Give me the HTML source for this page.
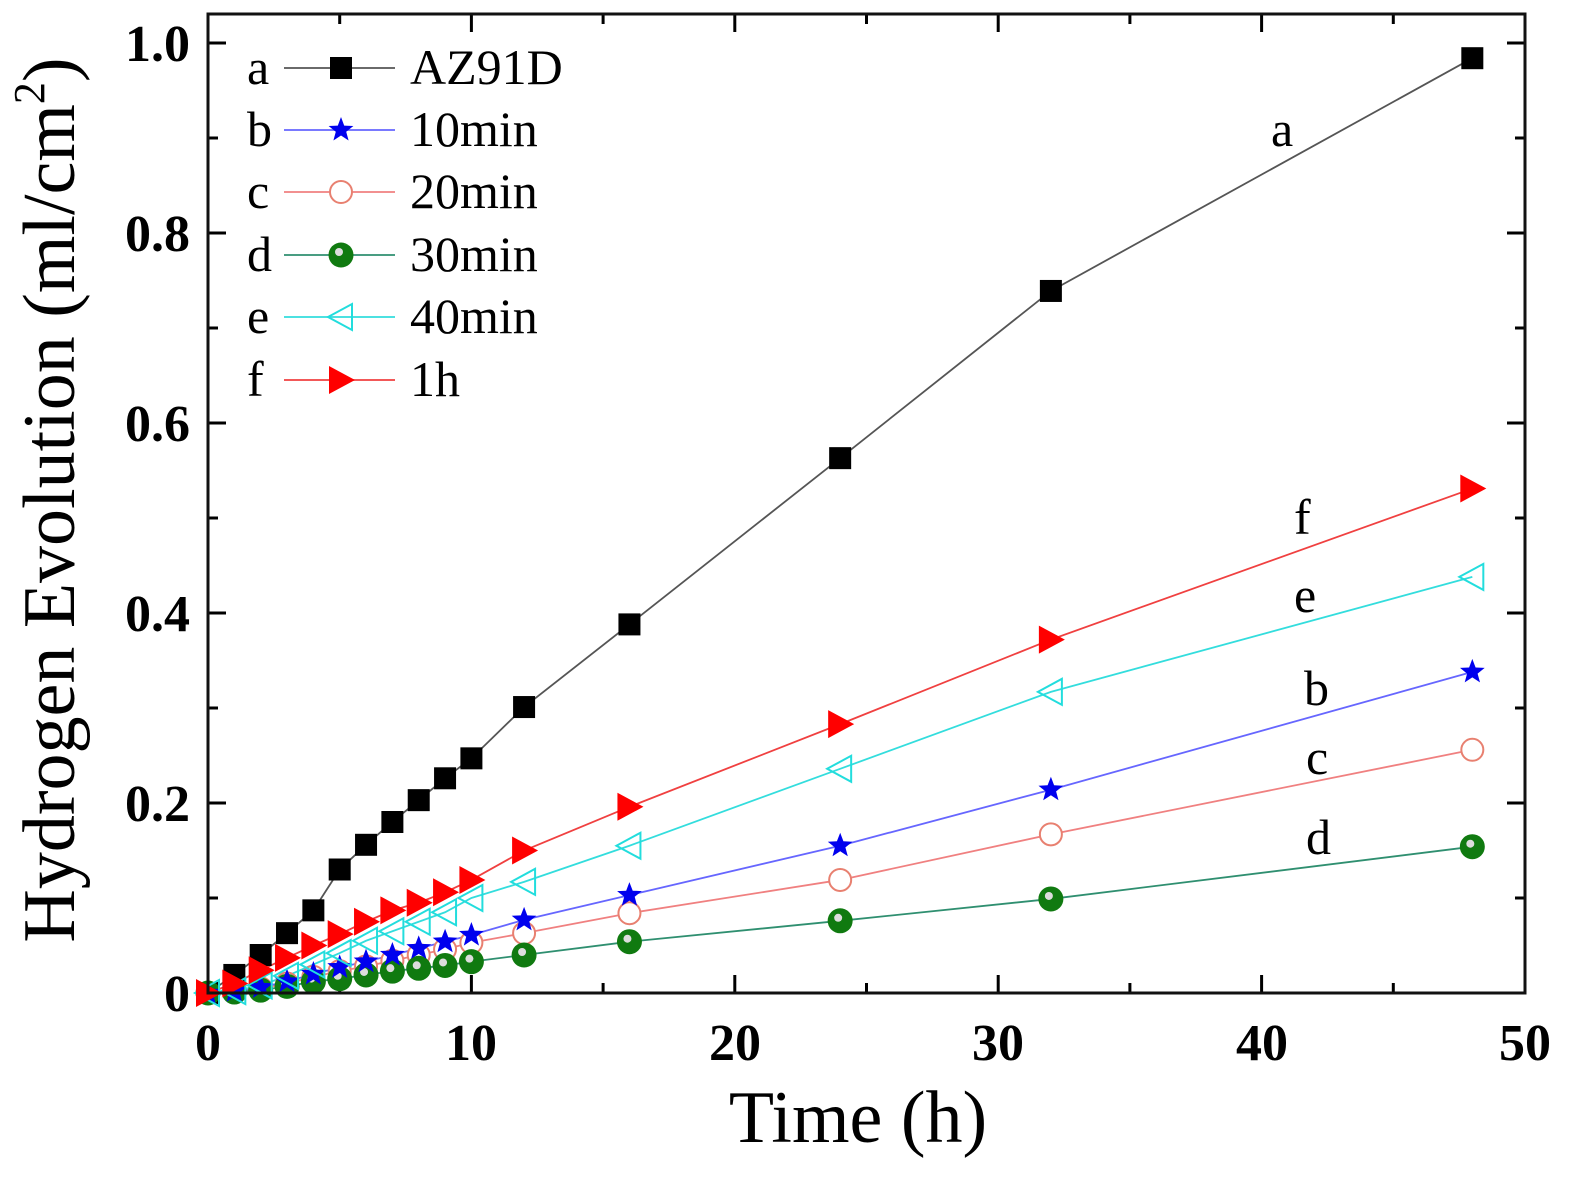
<!DOCTYPE html>
<html><head><meta charset="utf-8"><style>
html,body{margin:0;padding:0;background:#fff;}
svg{display:block;}
text{font-family:"Liberation Serif",serif;}
</style></head><body>
<svg id="s" width="1578" height="1185" viewBox="0 0 1578 1185" xmlns="http://www.w3.org/2000/svg">
<rect width="1578" height="1185" fill="#fff"/>
<g id="ticks" stroke="#000" stroke-width="3"></g>
<g id="series"></g>
<rect x="208" y="14" width="1317" height="979" fill="none" stroke="#111" stroke-width="3"/>
<g font-weight="bold" font-size="52" text-anchor="end">
<text x="190" y="1011">0</text>
<text x="190" y="821">0.2</text>
<text x="190" y="631">0.4</text>
<text x="190" y="441">0.6</text>
<text x="190" y="251">0.8</text>
<text x="190" y="61">1.0</text>
</g>
<g font-weight="bold" font-size="52" text-anchor="middle">
<text x="208" y="1060">0</text>
<text x="471" y="1060">10</text>
<text x="735" y="1060">20</text>
<text x="998" y="1060">30</text>
<text x="1262" y="1060">40</text>
<text x="1525" y="1060">50</text>
</g>
<text x="858" y="1142" font-size="74" text-anchor="middle">Time (h)</text>
<text transform="translate(74,500) rotate(-90)" font-size="74" text-anchor="middle">Hydrogen Evolution (ml/cm<tspan dy="-30" font-size="44">2</tspan><tspan dy="30">)</tspan></text>
<g font-size="50">
<text x="1271" y="146">a</text>
<text x="1294" y="534">f</text>
<text x="1294" y="612">e</text>
<text x="1304" y="705">b</text>
<text x="1306" y="774">c</text>
<text x="1306" y="854">d</text>
</g>
<g font-size="50">
<text x="247" y="84">a</text><text x="410" y="84">AZ91D</text>
<text x="247" y="146">b</text><text x="410" y="146">10min</text>
<text x="247" y="208">c</text><text x="410" y="208">20min</text>
<text x="247" y="271">d</text><text x="410" y="271">30min</text>
<text x="247" y="333">e</text><text x="410" y="333">40min</text>
<text x="247" y="396">f</text><text x="410" y="396">1h</text>
</g>
<g id="legend"></g>
</svg>
<script>
const NS="http://www.w3.org/2000/svg";
function el(t,a,p){const e=document.createElementNS(NS,t);for(const k in a)e.setAttribute(k,a[k]);p.appendChild(e);return e;}
const X=h=>208+h*26.34, Y=v=>993-v*950;
const tk=document.getElementById('ticks');
for(let i=0;i<=10;i++){const x=X(i*5);const L=i%2?10:18;el('line',{x1:x,y1:993,x2:x,y2:993-L},tk);el('line',{x1:x,y1:14,x2:x,y2:14+L},tk);}
for(let i=0;i<=10;i++){const y=Y(i*0.1);const L=i%2?10:18;el('line',{x1:208,y1:y,x2:208+L,y2:y},tk);el('line',{x1:1525,y1:y,x2:1525-L,y2:y},tk);}
const xs=[0,1,2,3,4,5,6,7,8,9,10,12,16,24,32,48];
const S=[
{c:'#555',m:'sq',d:[0,0.019,0.04,0.063,0.087,0.13,0.156,0.18,0.203,0.226,0.247,0.301,0.388,0.563,0.739,0.984]},
{c:'#f08080',m:'oc',d:[0,0.002,0.005,0.01,0.017,0.023,0.028,0.034,0.04,0.046,0.053,0.063,0.084,0.119,0.167,0.256]},
{c:'#2f8f70',m:'gc',d:[0,0.001,0.003,0.007,0.012,0.015,0.019,0.023,0.026,0.029,0.033,0.04,0.054,0.076,0.099,0.154]},
{c:'#6666ff',m:'st',d:[0,0.002,0.006,0.012,0.02,0.027,0.033,0.04,0.047,0.054,0.061,0.077,0.103,0.155,0.214,0.338]},
{c:'#33dddd',m:'lt',d:[0,0.002,0.008,0.018,0.03,0.042,0.055,0.065,0.075,0.085,0.1,0.117,0.155,0.236,0.317,0.438]},
{c:'#f04040',m:'rt',d:[0,0.01,0.024,0.037,0.05,0.062,0.075,0.087,0.095,0.106,0.119,0.15,0.196,0.283,0.372,0.531]}
];
function marker(m,x,y,g,s){s=s||1;
 if(m=='sq')el('rect',{x:x-11*s,y:y-11*s,width:22*s,height:22*s,fill:'#000'},g);
 else if(m=='oc')el('circle',{cx:x,cy:y,r:11*s,fill:'#fff',stroke:'#e88070','stroke-width':2},g);
 else if(m=='gc'){el('circle',{cx:x,cy:y,r:12.5*s,fill:'#107a10'},g);el('circle',{cx:x-2*s,cy:y-3*s,r:4*s,fill:'#ddd'},g);}
 else if(m=='st'){let p=[];for(let i=0;i<10;i++){const r=i%2?5.5*s:13*s;const a=-Math.PI/2+i*Math.PI/5;p.push((x+r*Math.cos(a)).toFixed(1)+','+(y+r*Math.sin(a)).toFixed(1));}el('polygon',{points:p.join(' '),fill:'#0000ee'},g);}
 else if(m=='lt')el('polygon',{points:`${x-13*s},${y} ${x+11*s},${y-13*s} ${x+11*s},${y+13*s}`,fill:'none',stroke:'#22dddd','stroke-width':2},g);
 else if(m=='rt')el('polygon',{points:`${x+14*s},${y} ${x-12*s},${y-14*s} ${x-12*s},${y+14*s}`,fill:'#ff0000'},g);
}
const sg=document.getElementById('series');
S.forEach(s=>{el('polyline',{points:xs.map((h,i)=>X(h)+','+Y(s.d[i])).join(' '),fill:'none',stroke:s.c,'stroke-width':1.8},sg);});
S.forEach(s=>{xs.forEach((h,i)=>marker(s.m,X(h),Y(s.d[i]),sg));});
const lg=document.getElementById('legend');
const order=[0,3,1,2,4,5], ly=[68,130,192,255,317,380];
order.forEach((k,i)=>{const s=S[k];el('line',{x1:284,y1:ly[i],x2:395,y2:ly[i],stroke:s.c,'stroke-width':1.8},lg);marker(s.m,341,ly[i],lg);});
</script>
</body></html>
